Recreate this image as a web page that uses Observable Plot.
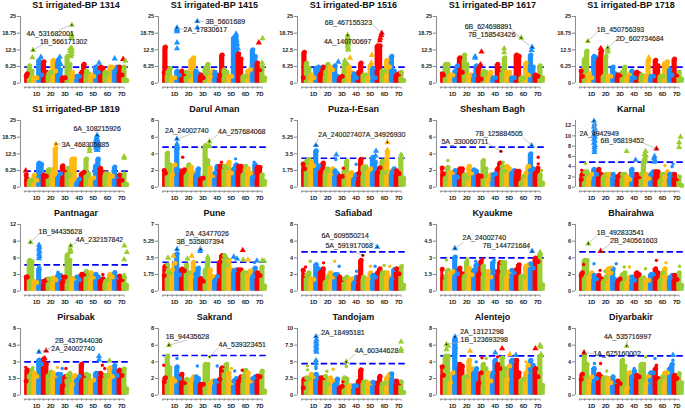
<!DOCTYPE html>
<html><head><meta charset="utf-8">
<script src="https://cdn.jsdelivr.net/npm/d3@7"></script>
<script src="https://cdn.jsdelivr.net/npm/@observablehq/plot@0.6"></script>
<style>
html,body{margin:0;padding:0;background:#fff;width:685px;height:408px;overflow:hidden}
#root{position:relative;width:685px;height:408px}
.p{position:absolute}
.t{position:absolute;width:140px;text-align:center;font:bold 9px "Liberation Sans",Arial,sans-serif;color:#111;white-space:nowrap}
svg{overflow:visible;display:block}
</style></head><body><div id="root"></div>
<script>
const chromosomes=["1A","1B","1D","2A","2B","2D","3A","3B","3D","4A","4B","4D","5A","5B","5D","6A","6B","6D","7A","7B","7D","Un"];
const chromColors=["#ff0000","#9acd32","#ffb90f","#1e90ff"];
const tickChroms=[["1D",2.5],["2D",5.5],["3D",8.5],["4D",11.5],["5D",14.5],["6D",17.5],["7D",20.5]];

const titles=["S1 irrigated-BP 1314","S1 irrigated-BP 1415","S1 irrigated-BP 1516","S1 irrigated-BP 1617","S1 irrigated-BP 1718","S1 irrigated-BP 1819","Darul Aman","Puza-I-Esan","Shesham Bagh","Karnal","Pantnagar","Pune","Safiabad","Kyaukme","Bhairahwa","Pirsabak","Sakrand","Tandojam","Alentejo","Diyarbakir"];
const yTicks=[[0,6.25,12.5,18.75,25],[0,6.25,12.5,18.75,25],[0,6.25,12.5,18.75,25],[0,6.25,12.5,18.75,25],[0,6.25,12.5,18.75,25],[0,6.25,12.5,18.75,25],[0,2,4,6,8],[0,1.75,3.5,5.25,7],[0,2,4,6,8],[0,2,4,6,8,10,12],[0,3,6,9,12],[0,1.75,3.5,5.25,7],[0,2,4,6,8],[0,1.5,3,4.5,6],[0,2,4,6,8],[0,1.5,3,4.5,6],[0,2,4,6,8],[0,2.5,5,7.5,10],[0,2,4,6,8],[0,2,4,6,8]];
const yMax=[25,25,25,25,25,25,8,7,8,13,12,7,8,6,8,6,8,10,8,8];
const thresholds=[6,6,6,6,6,6,4.8,3.04,4.8,4.87,4.73,3.04,4.72,3,4.72,3,4.76,4.73,4.72,4.72];

// two column heights per chromosome (left half, right half)
const h1314=[3.5,4.5,7.5,5.5,3,3,9.5,4,9,5,4.5,5,9.5,5.5,9.5,6,3,3,11,8,5,3.5,3.5,3.5,5,8,5.5,4.5,4,3.5,7,5,7,6.5,5,4.5,7,7,5.5,7,7,4,7,2];
const h1415=[5,14.5,5,6.5,3,3,5.5,4,5.5,4.5,5,3.5,9.5,10.5,5.5,4.5,4,3,6.5,8,3.5,5.5,5,4,4,11.5,6,5,3.5,3.5,18,13,12,10,3.5,3.5,5.5,6,13.5,11,8.5,6,7,3];
const h1516=[3,12.5,8.5,6.5,4,3,6.5,7,4.5,7,5,8,7,6,7.5,3.5,3,3.5,8,8,7,5,4.5,3,5,8.5,4,4,3,7.5,6.5,3,15,15,5.5,5.5,9.5,7,11,5.5,4,4.5,5,2];
const h1617=[4.5,4,8,8,4,4,5.5,7.5,10.5,5,11.5,8,4,4,3.8,7.5,6.5,2.5,5.5,5,3,5,3,3,8,6,6,10.5,5,5,3,3,11.5,11,3,3,8.5,4,11.5,7,4,3.5,7.5,3];
const h1718=[5.5,3.5,10,13,4.5,3,11,10.5,10,12.5,3.5,11,3.5,3.5,7,4.5,4,4,5,7,3,4.5,5.5,3,5,4.5,4,3.5,3.5,9.5,3.5,3.5,9.5,7.5,3.5,3.5,8.5,9,6,4,10,4,5,2.5];
const h1819=[5.5,4,3.5,3.5,5.5,3.5,10,9.5,5.5,5,7.5,7.5,7.5,15.5,4.5,6,9,7.5,8,5.5,11.5,11.5,2.5,4,6,6.5,11.5,6,4,4.5,9,11.5,8,6.5,6,6,5.5,5,8.5,5,5.5,3.5,6,2];
const hDarul=[2.3,2,4.4,3,1.8,3,5,2.3,2.2,2.4,1.7,3,2.7,2,1.8,2.5,1.3,1.4,5.3,3.5,2.6,1.7,2,2.8,2.8,2.8,2.8,2.6,3.3,2,2.5,3,2.8,2.8,1.8,2.8,2.5,2,1.5,3,2.7,2.7,1.8,1];
const hPuza=[2.7,2.2,3,3.2,2.9,2.5,4.1,2.5,1.9,2.8,1.9,2.2,1.6,2.2,2,1.7,1.4,1.4,2,3,1.7,1.8,1.1,1.6,1.7,3.2,2.4,2.4,1.9,2.2,3.4,2.9,1.8,2.3,3,1.8,3.3,1.9,1.8,2.2,2,1.7,3.3,1.2];
const hShesham=[2.6,1.9,1.4,2.7,2.1,2.1,2.3,1.5,2.5,2.5,1.8,1.4,2.8,2,2.4,2.2,1.7,1.6,3.5,2.5,1.2,1.8,1.8,1.9,2.5,3.2,2.8,2.2,2.8,2.5,2,2.3,2.2,2.2,.9,1.6,2,2.8,4.3,2.5,2,2.6,1.8,.8];
const hKarnal=[2,3,3.5,3.5,2.3,3,4,3,4,3,2.5,3,3,3,3,2.5,2.5,3,3,3,2.5,2,4,3,3,2.5,3,5.5,3,2.2,3,3.5,3.5,3.5,1.8,3,2.5,3.5,3,3,3,2.2,2.5,.8];
const hPant=[3,3,6,5.8,2.2,2,4.5,2.2,2.2,2.5,2.7,2.7,2.8,2.5,3.3,3.3,2.2,3,7,6,2.8,2.8,3,2.5,3.5,3.5,4,3.5,3.8,3,3.5,3,2.3,2.7,2.2,2.5,3.5,3,3.8,3,3.2,2.5,3,1.5];
const hPune=[1.9,2.9,3,2.2,2.5,3.2,4.2,2,2.6,2.4,3,2.2,1.8,3.3,2.1,2.7,1.6,1.3,2.5,3.5,2.5,1.8,1.4,1.8,3.3,4,4,3,3.5,2.5,2.4,2.5,2.5,2.5,2.2,2.2,1.9,2.4,1.8,2.7,2.2,1.9,2.8,.8];
const hSafi=[2.8,2.2,2.2,2.5,1.8,1.7,3.5,3,2.6,3,1.4,2,2.5,2,2.3,2.3,2,1.7,1.8,2,1.6,1.8,1.3,2,2,4,2,1.8,1.8,2.5,2.2,2,2.5,3,2.5,2.5,2.5,2,1.8,2.9,3,2.4,3.2,1];
const hKyau=[2.2,1.5,1.5,2.1,1.8,2,3.3,1.8,2.3,1.8,1.6,2.9,2.3,1.7,2.1,2.6,1.8,2.9,2.5,2,2,1.5,2.8,2,2,2.8,2.8,2.8,1.5,2,2.1,1.9,2.2,2.6,1.6,1.5,2.5,2.6,2.7,2.3,3.2,2.9,3.5,.8];
const hBhai=[2.2,2.5,4,4,2,2.5,2.2,1.8,2.2,1.8,1.5,2,3,2.5,3,1.7,1.5,1.8,2.3,2.5,1.3,2,2,1.6,2.5,2.3,1.8,1.9,1.6,1.6,2.3,2.3,3,2.5,1.6,2.5,3,2,1.9,2.2,2.2,1.7,2.5,1];
const hPirs=[1.5,2.5,2,2.5,2.2,1.9,3.4,3,3.5,3,2,2.3,2.2,2,2.1,2.1,1.1,1.9,2,2.2,1.2,2,1.6,1.9,3,2,2.1,2,1.5,1.6,2.2,2.2,2.2,2,2,2,2.7,1.9,2.9,2,2.5,2,2.6,.8];
const hSakr=[1.9,2.4,5,3.6,2.3,2,3.7,2.3,2.8,1.8,2.2,2.1,2.1,2.5,2.5,2.3,1.6,1.6,4,4,1.7,2,2,2,2.2,3.6,3.3,4,3,1.8,2,2.3,2,2.5,2.5,3.3,3,2,2.3,2.5,2.6,2.5,3.2,.8];
const hTand=[1.5,2.8,3,2.8,3.5,3.2,3.5,3,3,3,3.2,2,3,2.5,2,2.8,1.5,1.7,3,2.8,1.8,1.8,1.8,1.8,2.5,4.2,2.3,2.4,2.2,2.2,2.3,2.2,2.2,3.2,2.1,2.2,3,3.5,3.6,2.5,2.5,2.2,2.4,.8];
const hAlen=[3.7,2.7,5,5,1.8,3,7,4,4,3.8,2.5,2.5,4.5,3.5,3,3.5,1.8,3,4,3.5,3,2,3,4.5,4,3.5,4.8,3.5,2.2,3.8,4.5,4.5,4.5,3,2.1,2.2,3,3.9,4.5,3.9,3.5,2.5,5,1.5];
const hDiya=[2.2,2.8,5,4,2,2.5,3.5,2.3,2.8,2.5,2.4,2.4,2.3,1.8,2.5,1.9,2,1.7,4.5,3.8,1.2,3,2.5,3.2,2.7,2.5,4,4,1.7,2.6,3,3,3.5,2.3,2,2.5,3,3,3.5,4,2.7,2.3,2.9,1.8];

// individual markers [position along the genome, value]
const m1314=[[1.76,12.4],[1.6,9.6],[9.95,21.8],[9.9,18.3],[9.9,17.6],[9.9,17],[9.6,13],[9.8,13],[9.95,13],[9.6,12],[9.8,12],[9.95,12],[9.7,11],[9.9,11],[9.8,10],[7.4,9.8],[7.3,8],[7.6,7],[3.4,9.8],[15.7,7.6],[19,9.2],[20.8,9],[21.3,8.3]];
const m1415=[[3,20.8],[3,20.2],[3,19.8],[3,19.4],[3,15.2],[3,13],[7.3,23.2],[7.3,20.8],[15.5,18.5],[15.5,17.8],[15.5,17],[15.6,16.2],[15.6,15.4],[15.7,14.6],[15.5,14],[15.9,13],[20.3,15.2],[21.1,16.8],[21,7.6]];
const m1516=[[9.7,18],[9.7,17.2],[9.6,16.4],[9.8,16.4],[9.6,15.6],[9.9,15.6],[9.7,14.8],[9.9,14.8],[9.7,14],[9.8,13.2],[9.8,12.5],[9.1,8.5],[10.2,9.5],[7.7,8],[14.8,10.5],[14.7,7.6],[16.9,18.8],[16.8,18],[16.6,17],[16.5,16]];
const m1617=[[7.25,10],[7.25,9.5],[8.6,11.8],[8.4,7],[13.4,13],[13.4,11.5],[17,17],[19.3,13.5],[19.2,12.4]];
const m1718=[[1.7,15.7],[5.9,13.3],[5.9,12.5],[5.9,11.7],[4.6,12.6],[4.4,13],[14.6,9.6]];
const m1819=[[6.6,16.2],[15.3,19.5],[15.2,18.8],[15.1,18],[15.3,18],[15,17.2],[15.4,17.2],[15,16.4],[15.4,16.4],[15,15.6],[15.5,15.6],[15,14.8],[15.5,14.8],[15.2,14],[15.4,14],[13.7,14.5],[13.7,13.5],[21,11.5],[21,11],[0.2,6.2],[0.4,5]];
const mDarul=[[3,5.8],[3,5.2],[3,4.9],[3,4.6],[4.2,3.6],[15.4,3.4],[9.86,5.5],[9.8,5],[9.9,4.9],[12.4,3],[19.3,3]];
const mPuza=[[3,4.4],[7.3,3.4],[7.2,2.9],[11.5,2.4],[15.7,3.8],[15.6,3.3],[18.1,4.7],[18.1,3.9],[18.1,3.7],[18.1,3.5],[8.8,2],[21,3.4]];
const mShesham=[[1.5,3.2],[12.7,4.3],[19.2,5],[20.6,3.6],[20.6,2.8],[21.3,2],[13.2,3]];
const mKarnal=[[3,12.9],[3.1,12.3],[3,11.8],[3.2,11.4],[3,11],[3.2,10.6],[3,10.2],[3.2,9.8],[3,9.4],[3.2,9],[3,8.6],[3.2,8.2],[3.1,7.8],[3.1,7.3],[3.1,6.8],[9.9,7],[11.8,5.3],[13.9,7],[13.7,6.4],[13.95,6.2],[13.8,5.8],[13.6,5.4],[13.95,5.2],[13.8,4.8],[15.8,6],[15.7,5.6],[15.9,5.2],[15.7,4.9],[16.2,7.5],[21.3,9.8],[21,8.7],[21,7.8],[19.7,4.5],[18,4.2],[1.2,4.6],[0.4,3.3],[19.5,4]];
const mPant=[[1.2,8.8],[9.7,8.2],[9.6,7.6],[9.5,7],[9.7,7.2],[3,8.3],[3.1,7.9],[3,7.5],[3.1,7.1],[3,6.7],[3.1,6.3],[3,5.9],[3,4.5],[3,4],[8,2.7],[21.05,8.2],[21.6,7],[21,5.7],[7,3.4],[16.5,3],[21,3]];
const mPune=[[1.1,3.5],[2.25,3.7],[3,4.4],[5.2,3.4],[6.1,3.7],[7.96,4.4],[7.9,4.2],[15,3.6],[15.7,3.4],[16.9,4.3],[17,3.3],[18,3.3],[19.9,3.2],[21,3.2],[21.4,3.2],[19.4,3],[0.4,2.5],[0.3,2.2],[13.5,3.5],[9.5,3.6]];
const mSafi=[[1.8,3.6],[6.95,3.6],[7.9,3],[11.6,2.4],[12.9,4.3],[15.95,5.3],[14.5,3],[15.5,3],[17.4,3.1],[18.6,3],[0.8,2.9],[4.6,3.4],[21.2,3.1]];
const mKyau=[[3,3.85],[19.3,3.6],[1.2,2.8],[5.6,2.9],[21,3.5],[7.4,2.7],[8.8,2.9],[11.3,2.8]];
const mBhai=[[1.8,5.7],[4.4,4.8],[3,3.3],[0.8,3.2],[7.7,3.3],[9.4,2.9],[10.5,2.9],[13.9,2.7],[16.2,3.7],[21.1,3],[18.2,3.4],[6.6,2.9],[5.3,2.4],[4.3,2.5]];
const mPirs=[[3,3.9],[4.5,4],[0.2,2.5],[1.7,2.5],[15.7,3.5],[15.7,3.2],[17.9,3.1],[16.4,2.7],[16.9,2.4],[7.9,2.4],[8.7,2.4],[6.9,2.5],[4.2,3.3]];
const mSakr=[[1.3,6],[9.9,4.6],[0.2,3.6],[3,4.4],[7.3,3.5],[11.5,3.5],[14.5,3.2],[15.2,2.9],[16.8,3],[13.2,3.7],[12.6,2.9]];
const mTand=[[3,8.8],[3.1,8.3],[3,8],[3.1,7.7],[3,7.4],[3.1,7.1],[3,6.8],[3.1,6.5],[3,5.2],[3,4.8],[3,4.3],[3,4],[1.2,4.4],[1.2,3.8],[9.4,5],[9.4,4.3],[8.7,2],[6.6,3.9],[5.3,3.6],[21,8],[21,6.9],[21,6.6]];
const mAlen=[[1.2,6.1],[1.2,5.5],[1.6,5.9],[3,7],[3.1,6.5],[3,6.2],[3.1,5.8],[3,5.5],[3,5.1],[6.2,5.3],[12.96,5.6],[11.5,5.1],[12,4.6],[8.7,4.5],[7.5,4],[21,6],[21.1,5.8],[21.2,4.9],[20,5.6],[18,4],[14.6,4.9],[15.9,4.8],[9.6,4.4]];
const mDiya=[[0.9,5.1],[9.9,5.9],[13.9,4.6],[15.9,4.4],[19.7,4.8],[19.7,4.2],[3.1,3.8],[5.7,2.9],[4.4,3.8],[3,3.3],[11.5,3.2],[16.2,3.6]];

// [label, label x, label y, line start x, line start y, marked x, marked y]
const l1314=[["4A_531682001",5.35,18.4,7.2,20,9.95,21.8],["1B_566171302",8.2,15.6,4,14.7,1.76,12.4]];
const l1415=[["2A_17830617",9,20,4.4,20.1,3,20.8],["3B_5601689",13.2,23.2,8.7,23.2,7.3,23.2]];
const l1516=[["6B_467155323",9.86,22.8,14.9,22,16.9,18.8],["4A_140700697",9.7,15.6,9.8,16.2,9.7,18]];
const l1617=[["6B_624698891",10.07,21.3,15,20,17,17],["7B_158543426",10.8,18.2,15.8,17.9,19.3,13.5]];
const l1718=[["1B_450756393",8.6,20,3.66,19.1,1.7,15.7],["2D_602734684",12.7,16.8,7.7,16.2,5.9,13.3]];
const l1819=[["6A_108215926",15.3,22,15.3,21,15.3,19.5],["3A_468305885",12.8,16,7.9,16.2,6.6,16.2]];
const lDarul=[["2A_24002740",5.07,6.8,6.1,6.4,3,5.8],["4A_257684068",16.7,6.7,11.8,6.4,9.86,5.5]];
const lPuza=[["2A_24002740",8.1,5.5,3.4,5.1,3,4.4],["7A_34926930",17.3,5.5,18,5.1,18.1,4.7]];
const lShesham=[["5A_330060711",5.1,5.4,10.1,5.2,12.7,4.3],["7B_125884505",12.3,6.4,17.3,6,19.2,5]];
const lKarnal=[["2A_4942949",4.1,10.5,3.3,10.2,3,12.9],["6B_95819452",9,9,13.4,8.6,16.2,7.5]];
const lPant=[["1B_94435628",7.5,10.7,3,10.3,1.2,8.8],["4A_232157842",15.8,9.3,11,8.8,9.7,8.2]];
const lPune=[["2A_43477026",9.4,6,4.7,5.7,3,4.4],["3B_535807394",7.9,5.14,7.9,4.9,7.96,4.4]];
const lSafi=[["6A_609550214",9.15,6.6,13.9,6.3,15.95,5.3],["5A_591917068",10,5.4,10.2,4.9,12.9,4.3]];
const lKyau=[["2A_24002740",9.2,4.8,4.8,4.4,3,3.85],["7B_144721684",13.9,4.05,18,4,19.3,3.6]];
const lBhai=[["1B_492833541",8.6,7,3.7,6.7,1.8,5.7],["2B_240561603",11.4,6,6.5,5.7,4.4,4.8]];
const lPirs=[["2B_437544036",11.4,4.9,6.5,4.6,4.5,4],["2A_24002740",10.2,4.2,5.4,4.2,3,3.9]];
const lSakr=[["1B_94435628",5.2,7,5.1,6.6,1.3,6],["4A_539323451",16.8,6,11.8,5.7,9.9,4.6]];
const lTand=[["2A_18495181",8.7,9.3,4.2,9.2,3,8.8],["4A_60344628",15.8,6.6,11.3,6.2,9.4,5]];
const lAlen=[["2A_13121298",8.7,7.6,4.1,7.3,3,7],["1B_123693298",9.2,6.6,4.4,6.4,1.2,6.1]];
const lDiya=[["4A_535716997",10.1,7,10.1,6.7,9.9,5.9],["1A_675160002",7.9,5,3,5,0.9,5.1]];

const allHeights=[h1314,h1415,h1516,h1617,h1718,h1819,hDarul,hPuza,hShesham,hKarnal,hPant,hPune,hSafi,hKyau,hBhai,hPirs,hSakr,hTand,hAlen,hDiya];
const allMarkers=[m1314,m1415,m1516,m1617,m1718,m1819,mDarul,mPuza,mShesham,mKarnal,mPant,mPune,mSafi,mKyau,mBhai,mPirs,mSakr,mTand,mAlen,mDiya];
const allLabels=[l1314,l1415,l1516,l1617,l1718,l1819,lDarul,lPuza,lShesham,lKarnal,lPant,lPune,lSafi,lKyau,lBhai,lPirs,lSakr,lTand,lAlen,lDiya];

const colLeft=[20,158.4,297.4,436.4,575];
const rowZero=[82.7,186.7,290.7,394.7];
const ML=24,MT=10,PH=66.7,AX=4,MB=14,chromPx=4.73,leftGap=4.3,rightExtra=1.7;
const font='"Liberation Sans",Arial,sans-serif';
const chromName=i=>chromosomes[Math.min(21,Math.max(0,Math.floor(i)))];
const colorScale={domain:chromosomes,range:chromosomes.map((_,i)=>chromColors[i%4])};

titles.forEach((title,i)=>{
  const col=i%5,row=Math.floor(i/5),max=yMax[i],u=max/PH,r=2.5;
  const bars=allHeights[i].map((h,k)=>({x1:Math.max(0,k/2-.5),x2:k/2+.6,top:Math.max(h-r*u,0),c:chromosomes[Math.floor(k/2)]}));
  const markers=allMarkers[i].map(([x,y])=>({x,y,c:chromName(x)}));
  const above=markers.filter(d=>d.y>=thresholds[i]),below=markers.filter(d=>d.y<thresholds[i]);
  const labels=allLabels[i].map(([text,tx,ty,lx,ly,px,py])=>({text,tx,ty,lx,ly,px,py}));
  const xDomain=[-leftGap/chromPx,22+rightExtra/chromPx];
  const width=ML+(xDomain[1]-xDomain[0])*chromPx;
  const svg=Plot.plot({
    width,height:MT+PH+AX+MB,marginTop:MT,marginLeft:ML,marginRight:0,marginBottom:MB,
    style:{fontFamily:font,background:"transparent",overflow:"visible"},
    x:{domain:xDomain,axis:null},
    y:{domain:[-AX*u,max],axis:null},
    color:colorScale,
    marks:[
      Plot.ruleY([thresholds[i]],{x1:0,x2:22,stroke:"#0000ff",strokeWidth:1.7,strokeDasharray:"6.5,3.2"}),
      Plot.rect(bars,{x1:"x1",x2:"x2",y1:0,y2:"top",fill:"c"}),
      Plot.dot(bars,{x:d=>(d.x1+d.x2)/2,y:"top",r,fill:"c"}),
      Plot.dot(below,{x:"x",y:"y",r:1.7,fill:"c"}),
      Plot.dot(above,{x:"x",y:"y",r:2.3,symbol:"triangle",fill:"c"}),
      Plot.link(labels,{x1:"lx",y1:"ly",x2:"px",y2:"py",stroke:"#b0b0b0",strokeWidth:.7}),
      Plot.dot(labels,{x:"px",y:"py",r:.8,fill:"#000"}),
      Plot.text(labels,{x:"tx",y:"ty",text:"text",fontSize:7,fill:"#222",stroke:"#222",strokeWidth:.15}),
      Plot.ruleY([-AX*u],{x1:0,x2:21,stroke:"#808080",strokeWidth:.9}),
      Plot.ruleX([xDomain[0]],{y1:0,y2:max,stroke:"#808080",strokeWidth:.9}),
      Plot.axisX({anchor:"bottom",ticks:d3.range(0,22),tickSize:2,tickFormat:null,stroke:"#555",strokeWidth:.6,text:null}),
      Plot.axisX({anchor:"bottom",ticks:tickChroms.map(d=>d[1]),tickSize:0,tickPadding:5,tickFormat:v=>tickChroms.find(d=>d[1]===v)[0],fontSize:6,fontWeight:"bold",fill:"#222",label:null}),
      Plot.axisY({anchor:"left",ticks:yTicks[i],tickSize:3,tickPadding:1.5,tickFormat:d=>String(d),fontSize:5.5,fontWeight:"bold",fill:"#222",stroke:"#555",strokeWidth:.7,label:null})
    ]
  });
  svg.setAttribute("class","p");
  svg.style.left=(colLeft[col]-ML)+"px";
  svg.style.top=(rowZero[row]-PH-MT)+"px";
  svg.style.background="transparent";
  const t=document.createElement("div");
  t.className="t";t.textContent=title;
  t.style.left=(colLeft[col]-14)+"px";
  t.style.top=(rowZero[row]-82.5)+"px";
  document.getElementById("root").append(svg,t);
});
</script></body></html>
